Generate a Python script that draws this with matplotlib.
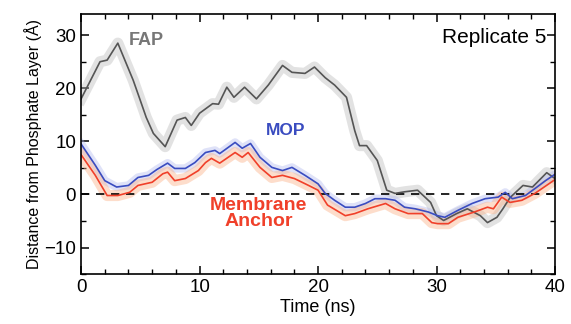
import matplotlib.pyplot as plt
import numpy as np

plt.rcParams['font.family'] = ['Liberation Sans', 'DejaVu Sans']

# FAP (gray)
fap_t = [0, 1.6, 2.2, 3.1, 4.4, 5.0, 5.5, 6.1, 7.1, 8.1, 8.8, 9.3, 10.0, 11.1, 11.6, 12.3,
         12.9, 13.8, 14.8, 15.8, 17.0, 17.8, 18.9, 19.7, 20.6, 21.4, 22.4, 23.1, 23.5, 24.1,
         25.0, 25.8, 26.5, 27.3, 28.4, 29.5, 30.0, 30.6, 31.7, 32.6, 33.7, 34.3, 35.1, 35.6,
         36.2, 37.3, 38.1, 39.3, 40.0]
fap_y = [18, 25, 25.3, 28.5, 21.5, 17.7, 14.5, 11.5, 9, 14, 14.5, 13, 15.3, 17.1, 17, 20.2,
         18.3, 20.2, 18, 20.6, 24.3, 23, 22.8, 24, 22, 20.6, 18.3, 12, 9.2, 9.2,
         6.4, 0.8, 0.2, 0.5, 0.8, -1.5, -4, -4.9, -3.6, -2.7, -4, -5.3, -4.3, -2.7,
         -0.6, 1.7, 1.4, 4.1, 3]

# MOP (blue)
mop_t = [0, 1.2, 2.0, 3.0, 4.0, 4.8, 5.7, 6.4, 7.3, 7.9, 8.8, 9.6, 10.5, 11.3, 11.7, 13.0,
         13.6, 14.3, 15.1, 16.1, 17.0, 17.8, 18.9, 20.0, 20.6, 21.4, 22.3, 23.1, 24.0, 24.8,
         25.7, 26.5, 27.3, 28.2, 29.3, 30.1, 30.7, 31.8, 33.0, 34.1, 35.2, 35.8, 36.4, 37.5,
         38.3, 39.2, 40.0]
mop_y = [9.5, 5.5, 2.6, 1.4, 1.7, 3.2, 3.6, 4.7, 5.9, 4.9, 4.9, 6, 7.9, 8.3, 7.7, 9.8,
         8.7, 9.6, 7, 5.1, 4.5, 5.1, 3.6, 2, 0.2, -1.1, -2.4, -2.4, -1.7, -0.8,
         -0.8, -1.1, -2.4, -2.7, -3.3, -4, -4.3, -3, -1.7, -0.8, -0.5, 0.4, -0.8, -0.2,
         1.1, 2.6, 3.8]

# Membrane anchor (red)
anc_t = [0, 1.2, 2.2, 3.1, 4.1, 4.8, 6.0, 6.9, 7.3, 7.9, 8.8, 9.9, 10.5, 11.0, 11.7, 13.0,
         13.6, 14.1, 15.1, 16.1, 17.0, 18.0, 19.2, 20.0, 20.8, 22.3, 23.1, 24.2, 25.7, 26.5,
         27.6, 28.8, 29.6, 30.1, 31.0, 31.8, 33.2, 34.3, 34.8, 35.5, 36.2, 37.2, 38.3, 40.0]
anc_y = [7.5, 3.6, -0.2, -0.2, 0.4, 1.7, 2.3, 3.9, 4.2, 2.6, 3, 4.5, 6, 6.8, 5.9, 7.9,
         7, 7.9, 5.1, 3.2, 3.6, 3, 1.7, 0.8, -2, -4, -3.6, -2.7, -1.7, -2.7,
         -3.6, -3.6, -5.3, -5.5, -5.5, -4.3, -3.3, -2.4, -2.7, -0.5, -1.5, -1.1, 0.2, 2.8]

fig = plt.figure(figsize=(5.71, 3.24), dpi=100)
ax = fig.add_axes([0.142, 0.154, 0.830, 0.803])

# shaded "raw" bands under the running averages
ax.plot(fap_t, fap_y, color='#b8b8b8', lw=8, alpha=0.4, solid_joinstyle='round')
ax.plot(mop_t, mop_y, color='#b0b8ee', lw=6, alpha=0.4, solid_joinstyle='round')
ax.plot(anc_t, anc_y, color='#fbb48c', lw=8, alpha=0.45, solid_joinstyle='round')

ax.axhline(0, color='black', lw=1.2, ls=(0, (5, 4)))

ax.plot(fap_t, fap_y, color='#555555', lw=1.2)
ax.plot(mop_t, mop_y, color='#3a4cc0', lw=1.2)
ax.plot(anc_t, anc_y, color='#f0402a', lw=1.2)

ax.text(4.0, 29, 'FAP', color='#777777', fontsize=13, fontweight='bold', va='center')
ax.text(15.6, 12, 'MOP', color='#3a4cc0', fontsize=12.5, fontweight='bold', va='center')
ax.text(15.0, -3.6, 'Membrane\nAnchor', color='#f0402a', fontsize=14, fontweight='bold',
        ha='center', va='center', linespacing=0.9)
ax.text(39.3, 29.5, 'Replicate 5', fontsize=15, ha='right', va='center')

ax.set_xlim(0, 40)
ax.set_ylim(-15, 34)
ax.set_xticks([0, 10, 20, 30, 40])
ax.set_xticks(np.arange(0, 41, 2), minor=True)
ax.set_yticks([-10, 0, 10, 20, 30])
ax.set_yticks(np.arange(-15, 35, 5), minor=True)
ax.tick_params(which='both', direction='in', top=True, right=True, labelsize=13.5)
ax.tick_params(which='major', length=6, width=1.1)
ax.tick_params(which='minor', length=3.5, width=1)
for s in ax.spines.values():
    s.set_linewidth(1.2)

ax.set_xlabel('Time (ns)', fontsize=13, labelpad=2)
ax.set_ylabel('Distance from Phosphate Layer (Å)', fontsize=11.5, labelpad=2)

fig.savefig('out.png', dpi=100)
